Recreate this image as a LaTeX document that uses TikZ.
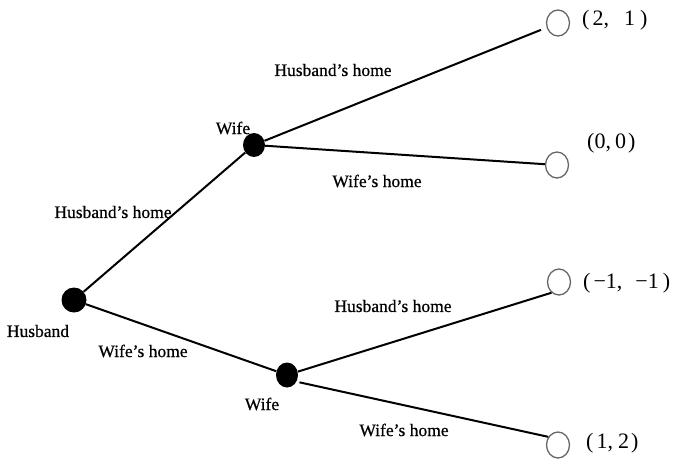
\documentclass[tikz,border=0pt]{standalone}
\usepackage{fontspec}
\setmainfont{Liberation Serif}
\newfontfamily\labfont[FakeBold=0.6]{Liberation Serif}
\usetikzlibrary{shapes.geometric}
\begin{document}
\begin{tikzpicture}[x=1pt,y=-1pt,
  dot/.style={ellipse,fill=black,inner sep=0pt,minimum width=#1},
  term/.style={ellipse,draw=black!60,line width=1.3pt,inner sep=0pt,minimum width=23pt,minimum height=26pt},
  edge/.style={line width=2pt,black},
  lab/.style={inner sep=0pt,font=\labfont\fontsize{17.5}{20}\selectfont},
  pay/.style={inner sep=0pt,anchor=west,font=\fontsize{22}{24}\selectfont}]
\useasboundingbox (0,0) rectangle (686,459);
% decision nodes
\node[dot=25pt,minimum height=25pt] (h) at (74,300) {};
\node[dot=22pt,minimum height=24pt] (w1) at (254,145) {};
\node[dot=22pt,minimum height=25pt] (w2) at (287,375) {};
% terminal nodes
\node[term] (t1) at (558,23) {};
\node[term] (t2) at (557,165) {};
\node[term] (t3) at (559,282) {};
\node[term] (t4) at (558,445) {};
% connectors
\draw[edge] (h) -- (w1);
\draw[edge] (h) -- (w2);
\draw[edge,shorten >=6pt] (w1) -- (t1);
\draw[edge] (w1) -- (t2);
\draw[edge] (w2) -- (t3.235);
\draw[edge,shorten <=3pt] (w2.-35) -- (t4.140);
% node labels
\node[lab] (lh) at (38,331) {Husband};
\node[lab] (lw1) at (233,128) {Wife};
\node[lab] (lw2) at (262,404) {Wife};
% edge labels
\node[lab] (e1) at (113,212) {Husband’s home};
\node[lab] (e2) at (143,351) {Wife’s home};
\node[lab] (e3) at (333,70) {Husband’s home};
\node[lab] (e4) at (377,181) {Wife’s home};
\node[lab] (e5) at (393,306) {Husband’s home};
\node[lab] (e6) at (404,430) {Wife’s home};
% payoffs
\node[pay] (p1) at (582,20) {(\hspace{3pt}2,\hspace{15pt}1\hspace{5pt})};
\node[pay] (p2) at (587,143) {(0,\hspace{4pt}0\hspace{2pt})};
\node[pay] (p3) at (583,283) {(\hspace{3pt}−1,\hspace{13pt}−1\hspace{4pt})};
\node[pay] (p4) at (586,443) {(\hspace{3pt}1,\hspace{5pt}2\hspace{2pt})};
\end{tikzpicture}
\end{document}
